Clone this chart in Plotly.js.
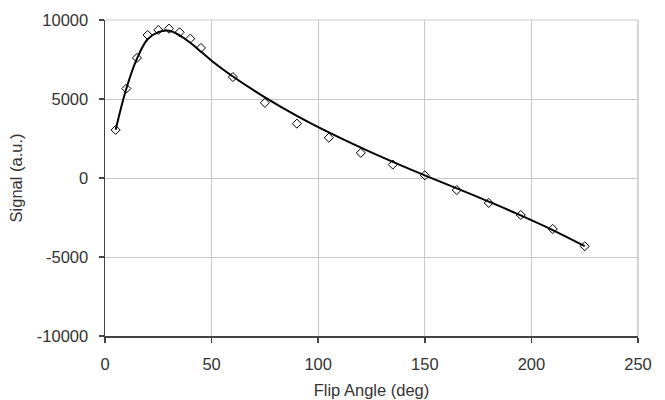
<!DOCTYPE html>
<html>
<head>
<meta charset="utf-8">
<script src="https://cdn.plot.ly/plotly-3.0.1.min.js"></script>
<style>html,body{margin:0;padding:0;background:#fff;}#chart{width:665px;height:400px;}</style>
</head>
<body>
<div id="chart"></div>
<script>
// Measured data points (flip angle in degrees, signal in a.u.)
const measAngle = [5, 10, 15, 20, 25, 30, 35, 40, 45, 60, 75, 90, 105, 120, 135, 150, 165, 180, 195, 210, 225];
const measSignal = [3040, 5660, 7600, 9050, 9370, 9450, 9220, 8820, 8230, 6390, 4760, 3440, 2550, 1590, 850, 170, -760, -1580, -2340, -3230, -4320];

// Fitted curve
const fitAngle = [5, 10, 15, 20, 25, 30, 35, 40, 45, 50, 60, 75, 90, 105, 120, 135, 150, 165, 180, 195, 210, 225];
const fitSignal = [3050, 5650, 7550, 8780, 9230, 9320, 9030, 8560, 8000, 7420, 6425, 5105, 3935, 2885, 1925, 1025, 170, -655, -1495, -2365, -3295, -4315];

const xTicks = [0, 50, 100, 150, 200, 250];
const yTicks = [-10000, -5000, 0, 5000, 10000];

const font = {family: 'Liberation Sans, Arial, sans-serif', size: 16.5, color: '#333'};

const traces = [
  {
    x: fitAngle, y: fitSignal, type: 'scatter', mode: 'lines',
    line: {color: '#000', width: 2, shape: 'spline', smoothing: 1.1},
    hoverinfo: 'skip'
  },
  {
    x: measAngle, y: measSignal, type: 'scatter', mode: 'markers',
    marker: {symbol: 'diamond-open', size: 7, color: '#000', line: {width: 1, color: '#000'}}
  }
];

const layout = {
  width: 665, height: 400,
  margin: {l: 105, r: 27, t: 20, b: 64},
  paper_bgcolor: '#fff', plot_bgcolor: '#fff',
  showlegend: false,
  font: font,
  xaxis: {
    range: [0, 250], tickvals: xTicks, ticktext: xTicks.map(String),
    showgrid: true, gridcolor: '#c8c8c8', gridwidth: 1,
    zeroline: false, showline: true, linecolor: '#444', linewidth: 1.5,
    ticks: 'outside', ticklen: 5, tickcolor: '#444', tickwidth: 1.5,
    ticklabelstandoff: 8,
    tickfont: font,
    title: {text: 'Flip Angle (deg)', font: font, standoff: 12}
  },
  yaxis: {
    range: [-10000, 10000], tickvals: yTicks, ticktext: yTicks.map(String),
    showgrid: true, gridcolor: '#c8c8c8', gridwidth: 1,
    zeroline: false, showline: true, linecolor: '#444', linewidth: 1.5,
    ticks: 'outside', ticklen: 5, tickcolor: '#444', tickwidth: 1.5,
    ticklabelstandoff: 7,
    tickfont: font,
    title: {text: 'Signal (a.u.)', font: font, standoff: 10}
  },
  shapes: [
    {type: 'line', xref: 'paper', yref: 'paper', x0: 0, x1: 1, y0: 1, y1: 1, line: {color: '#c8c8c8', width: 1}},
    {type: 'line', xref: 'paper', yref: 'paper', x0: 1, x1: 1, y0: 0, y1: 1, line: {color: '#c8c8c8', width: 1.5}}
  ]
};

Plotly.newPlot('chart', traces, layout, {displayModeBar: false, staticPlot: true});
</script>
</body>
</html>
